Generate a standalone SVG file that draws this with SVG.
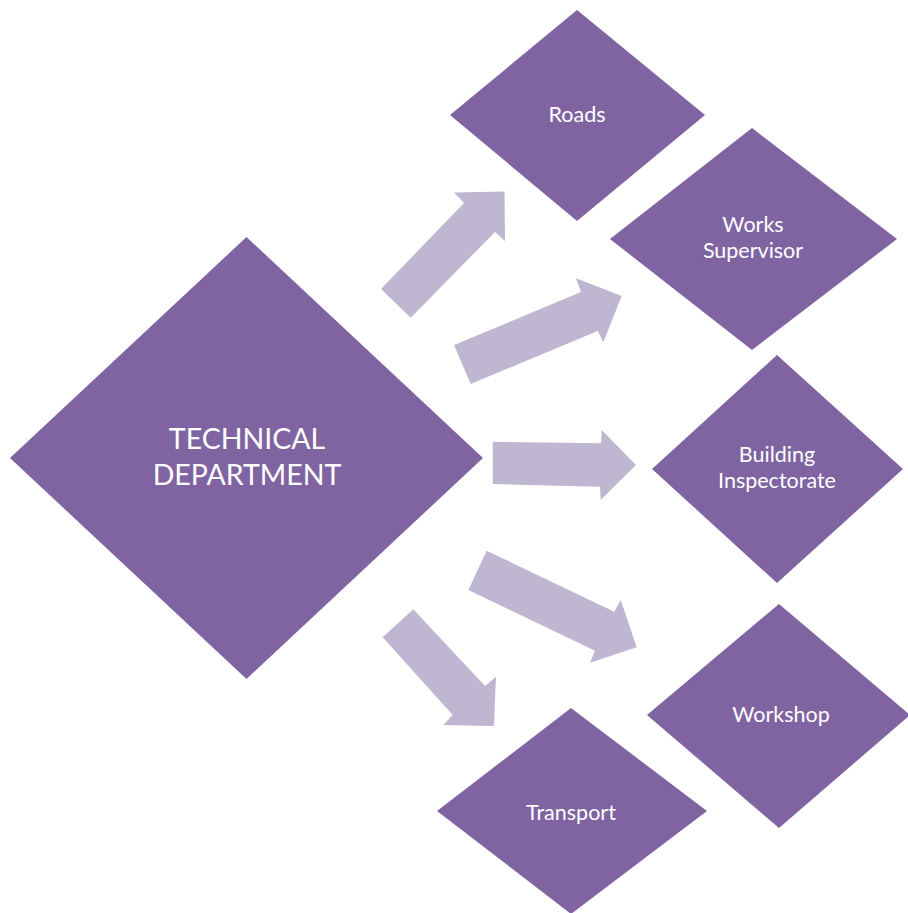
<svg xmlns="http://www.w3.org/2000/svg" width="908" height="913" viewBox="0 0 908 913">
  <style>
    .node { fill: #8064A2; }
    .arrow { fill: #BFB7D1; }
    .label { fill: #FFFFFF; font-family: Lato, "Open Sans", "Liberation Sans", sans-serif; text-anchor: middle; }
    .small { font-size: 21.5px; }
    .big { font-size: 28.5px; }
  </style>
  <rect width="908" height="913" fill="#FFFFFF"/>

  <!-- block arrows from the department to each unit -->
  <g id="connectors">
    <polygon class="arrow" points="381,289 464,203 454,192.5 504.5,191.5 505,241 495,232 410.7,317.7"/>
    <polygon class="arrow" points="454,345 581,292 576,278.3 621.7,296 603.3,342.3 597.7,331 470.7,384"/>
    <polygon class="arrow" points="492.7,441.7 601,443.3 601.7,430 636,465 600.7,500 600,486.7 492.7,484"/>
    <polygon class="arrow" points="486.7,550.7 614.3,611.7 620.7,600 636.7,647.3 590,662.7 595,650.7 468.3,590"/>
    <polygon class="arrow" points="413.3,609.3 485,686 496,676.7 494,726 443.3,725 452.7,715 382.7,637.3"/>
  </g>

  <g id="technical-department">
    <polygon class="node" points="246.5,237 483,458 246.5,679 10,458"/>
    <text class="label big" x="247" y="448.5">TECHNICAL</text>
    <text class="label big" x="247" y="485">DEPARTMENT</text>
  </g>

  <g id="roads">
    <polygon class="node" points="577,10 705,115 577,221 450,115"/>
    <text class="label small" x="577" y="121.7">Roads</text>
  </g>

  <g id="works-supervisor">
    <polygon class="node" points="752,128 897,239 752,350 610,239"/>
    <text class="label small" x="753" y="231.7">Works</text>
    <text class="label small" x="753" y="258.3">Supervisor</text>
  </g>

  <g id="building-inspectorate">
    <polygon class="node" points="777,355 903,469 777,583 652,469"/>
    <text class="label small" x="777" y="461.7">Building</text>
    <text class="label small" x="777" y="488.3">Inspectorate</text>
  </g>

  <g id="workshop">
    <polygon class="node" points="779,604 910,715 779,828 647,715"/>
    <text class="label small" x="781" y="721.7">Workshop</text>
  </g>

  <g id="transport">
    <polygon class="node" points="571,708 707,811 571,914 437,811"/>
    <text class="label small" x="571" y="820">Transport</text>
  </g>
</svg>
